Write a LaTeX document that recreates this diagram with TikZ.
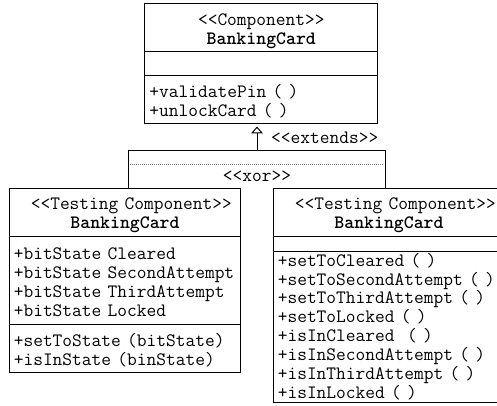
\documentclass[tikz,border=0pt]{standalone}
\usepackage{tikz}
\usetikzlibrary{arrows.meta}
\usetikzlibrary{positioning}
\definecolor{dotgray}{RGB}{130,130,130}
\newcommand{\umlfont}{\ttfamily\fontsize{18.9}{18.9}\selectfont}
\newcommand{\umltopstrut}{\rule{0pt}{19.3pt}}
\newcommand{\umlbotstrut}{\rule[-4.5pt]{0pt}{4.5pt}}
\newcommand{\drawextends}{\draw[-{Triangle[open, length=7pt, width=12pt]}, shorten >=2.5pt]}
\tikzset{
    umlbox/.style={draw, outer sep=0pt, inner xsep=4.5pt, inner ysep=0pt,
        text width=222.4pt, align=left, font=\umlfont, anchor=north},
    umlpart/.style={umlbox, execute at begin node=\umltopstrut, execute at end node=\umlbotstrut},
    umlhead/.style={umlpart, align=center},
    umllabel/.style={font=\umlfont, inner sep=0pt},
}

\begin{document}
\begin{tikzpicture}[x=1pt, y=-1pt, line width=1pt]
    \useasboundingbox (0,0) rectangle (497,406);

    % Draw base component
    \node[umlhead, text width=223.7pt, minimum height=47.5pt] (card-head) at (261.3,4)
        {<<Component>>\\\textbf{BankingCard}};
    \node[umlbox, text width=223.7pt, minimum height=24pt, below=0pt of card-head] (card-attr) {};
    \node[umlpart, text width=223.7pt, minimum height=48.5pt, below=0pt of card-attr] (card-ops)
        {+validatePin ( )\\+unlockCard ( )};

    % Draw testing component with state attributes
    \node[umlhead, minimum height=48pt] (state-head) at (125,188)
        {~~<<Testing Component>>\\\textbf{BankingCard}};
    \node[umlpart, minimum height=88.5pt, below=0pt of state-head] (state-attr)
        {+bitState Cleared\\+bitState~SecondAttempt\\+bitState ThirdAttempt\\+bitState Locked};
    \node[umlpart, minimum height=47.5pt, below=0pt of state-attr] (state-ops)
        {+setToState (bitState)\\+isInState (binState)};

    % Draw testing component with one method per state
    \node[umlhead, minimum height=48pt] (meth-head) at (389,188)
        {~~<<Testing Component>>\\\textbf{BankingCard}};
    \node[umlbox, minimum height=15pt, below=0pt of meth-head] (meth-attr) {};
    \node[umlbox, minimum height=151pt, below=0pt of meth-attr] (meth-ops)
        {+setToCleared ( )\\+setToSecondAttempt~( )\\+setToThirdAttempt ( )\\+setToLocked ( )\\
         +isInCleared~~( )\\+isInSecondAttempt ( )\\+isInThirdAttempt ( )\\+isInLocked ( )};

    % Draw xor group and generalization
    \coordinate (split) at (257,151);
    \coordinate (xor-l) at (128.5,151);
    \coordinate (xor-r) at (385.5,151);
    \coordinate (dots-l) at (130,164);
    \coordinate (dots-r) at (384,164);

    \drawextends (split) -- (split |- card-ops.south);
    \draw (state-head.north -| xor-l) -- (xor-l) -- (xor-r) -- (meth-head.north -| xor-r);
    \draw[dotgray, line width=0.8pt, dash pattern=on 1pt off 1pt] (dots-l) -- (dots-r);

    \node[umllabel] (xor) at (257,176) {<<xor>>};
    \node[umllabel, anchor=west] (extends) at (270.7,138) {<<extends>>};
\end{tikzpicture}
\end{document}
